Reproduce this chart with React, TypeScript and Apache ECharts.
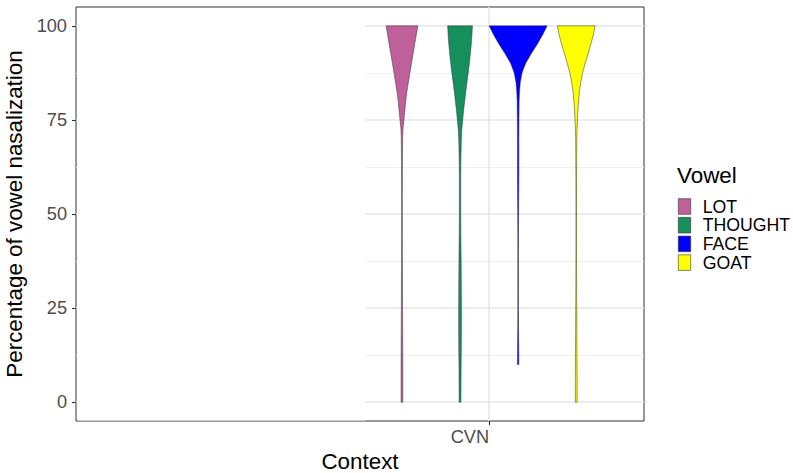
import React, { useEffect, useRef } from "react";
import * as echarts from "echarts";

// Legend / series names and fills
const vowels = ["LOT", "THOUGHT", "FACE", "GOAT"];
const vowelColors = ["#C0609A", "#168F5E", "#0000FF", "#FFFF00"];
// x categories (the first context is blanked out in the original)
const contexts = ["", "CVN"];
const yTicks = [0, 25, 50, 75, 100];
const yMinorTicks = [12.5, 37.5, 62.5, 87.5];

// Percentage levels at which the violin densities were read
const yLevels = [0, 5, 10, 15, 20, 25, 30, 35, 40, 45, 50, 55, 60, 65, 70, 72.5, 75, 77.5, 80, 82.5, 85, 87.5, 90, 92.5, 95, 97.5, 100];

// Estimated (relative) kernel densities at each level
const lotDensity = [0.9, 0.9, 0.9, 0.8, 0.7, 0.6, 0.55, 0.5, 0.45, 0.4, 0.4, 0.4, 0.45, 0.5, 0.7, 1.0, 2.0, 2.9, 3.8, 5.0, 6.5, 8.0, 9.6, 11.2, 12.8, 14.4, 16.0];
const thoughtDensity = [0.9, 1.0, 1.1, 1.3, 1.4, 1.4, 1.3, 1.2, 1.0, 0.8, 0.7, 0.7, 0.7, 0.9, 1.3, 1.8, 2.7, 3.6, 4.7, 5.8, 7.0, 8.3, 9.4, 10.4, 11.3, 12.0, 12.5];
const faceDensity = [null, null, 0.7, 0.6, 0.4, 0.3, 0.3, 0.3, 0.3, 0.35, 0.45, 0.6, 0.7, 0.7, 0.7, 0.75, 0.8, 0.9, 1.0, 1.4, 2.2, 4.0, 7.5, 13.0, 19.0, 24.5, 29.3];
const goatDensity = [0.9, 0.9, 0.8, 0.7, 0.6, 0.5, 0.4, 0.35, 0.3, 0.3, 0.3, 0.3, 0.35, 0.45, 0.55, 0.8, 1.2, 1.7, 2.3, 3.2, 4.6, 6.4, 9.0, 11.8, 14.6, 17.2, 19.0];

const densities: (number | null)[][] = [lotDensity, thoughtDensity, faceDensity, goatDensity];

const FONT = "'Liberation Sans', Arial, Helvetica, sans-serif";

export default function App() {
  const ref = useRef<HTMLDivElement>(null);

  useEffect(() => {
    if (!ref.current) return;
    const chart = echarts.init(ref.current, undefined, { renderer: "svg" });

    const maxDensity = Math.max(
      ...densities.flat().filter((d): d is number => d !== null)
    );
    const groupX = 2; // CVN
    const dodgeWidth = 0.9;
    const violinWidth = dodgeWidth / vowels.length;

    const makeRender = (vi: number) => (params: any, api: any) => {
      const cx = groupX + (vi - (vowels.length - 1) / 2) * violinWidth;
      const dens = densities[vi];
      const right: number[][] = [];
      const left: number[][] = [];
      for (let k = 0; k < yLevels.length; k++) {
        const d = dens[k];
        if (d === null || d === undefined) continue;
        const hw = (d / maxDensity) * (violinWidth / 2);
        right.push(api.coord([cx + hw, yLevels[k]]));
        left.push(api.coord([cx - hw, yLevels[k]]));
      }
      const points = right.concat(left.reverse());
      return {
        type: "polygon",
        shape: { points },
        style: {
          fill: vowelColors[vi],
          stroke: "#333333",
          lineWidth: 0.5,
        },
      };
    };

    const series = vowels.map((v, vi) => ({
      type: "custom",
      name: v,
      coordinateSystem: "cartesian2d",
      xAxisIndex: 0,
      yAxisIndex: 0,
      data: [[groupX, 50]],
      encode: { x: 0, y: 1 },
      renderItem: makeRender(vi),
      itemStyle: { color: vowelColors[vi], borderColor: "#333333", borderWidth: 0.6 },
      z: 3,
      silent: true,
    }));

    chart.setOption({
      animation: false,
      backgroundColor: "#ffffff",
      textStyle: { fontFamily: FONT },
      title: {
        text: "Vowel",
        left: 677,
        top: 164,
        padding: 0,
        textStyle: { fontSize: 22.4, fontWeight: "normal", color: "#000000", fontFamily: FONT },
      },
      legend: {
        orient: "vertical",
        left: 678,
        top: 197.5,
        padding: 0,
        itemWidth: 12.4,
        itemHeight: 15.6,
        itemGap: 0.7,
        icon: "rect",
        selectedMode: false,
        data: vowels,
        itemStyle: { borderColor: "#333333", borderWidth: 0.6 },
        textStyle: {
          fontSize: 17.7,
          color: "#000000",
          lineHeight: 16,
          fontFamily: FONT,
          padding: [0, 0, 0, 7],
        },
      },
      grid: {
        left: 76,
        top: 7,
        width: 568,
        height: 414,
        show: true,
        borderColor: "#333333",
        borderWidth: 1,
        backgroundColor: "transparent",
        containLabel: false,
        outerBoundsMode: "none",
      },
      xAxis: {
        type: "value",
        min: 0.4,
        max: 2.6,
        name: "Context",
        nameLocation: "middle",
        nameGap: 29,
        nameTextStyle: { fontSize: 22.4, color: "#000000", fontFamily: FONT },
        axisLine: { show: false, onZero: false },
        axisTick: {
          show: true,
          customValues: [groupX],
          length: 4,
          lineStyle: { color: "#333333", width: 1.1 },
        },
        axisLabel: {
          customValues: [groupX],
          formatter: (v: number) => contexts[Math.round(v) - 1] ?? "",
          align: "right",
          fontSize: 18.2,
          color: "#4D4D4D",
          margin: 7,
          fontFamily: FONT,
        },
        splitLine: { show: true, lineStyle: { color: "#E6E6E6", width: 1.6 } },
      },
      yAxis: [
        {
          type: "value",
          min: -5,
          max: 105,
          name: "Percentage of vowel nasalization",
          nameLocation: "middle",
          nameGap: 43,
          nameTextStyle: { fontSize: 22.4, color: "#000000", fontFamily: FONT },
          axisLine: { show: false, onZero: false },
          axisTick: {
            show: true,
            customValues: yTicks,
            length: 4,
            lineStyle: { color: "#333333", width: 1.1 },
          },
          axisLabel: {
            customValues: yTicks,
            fontSize: 18.2,
            color: "#4D4D4D",
            margin: 9,
            fontFamily: FONT,
          },
          splitLine: { show: true, lineStyle: { color: "#E6E6E6", width: 1.5 } },
        },
        {
          type: "value",
          min: -5,
          max: 105,
          position: "left",
          axisLine: { show: false, onZero: false },
          axisTick: { show: false, customValues: yMinorTicks },
          axisLabel: { show: false, customValues: yMinorTicks },
          splitLine: { show: true, lineStyle: { color: "#EEEEEE", width: 0.9 } },
        },
      ],
      graphic: [
        {
          type: "rect",
          z: 1,
          silent: true,
          shape: { x: 77.5, y: 8, width: 288, height: 412.5 },
          style: { fill: "#ffffff" },
        },
      ],
      series,
    });

    return () => chart.dispose();
  }, []);

  return (
    <div
      ref={ref}
      style={{ position: "fixed", left: 0, top: 0, width: 793, height: 473, background: "#fff" }}
    />
  );
}
